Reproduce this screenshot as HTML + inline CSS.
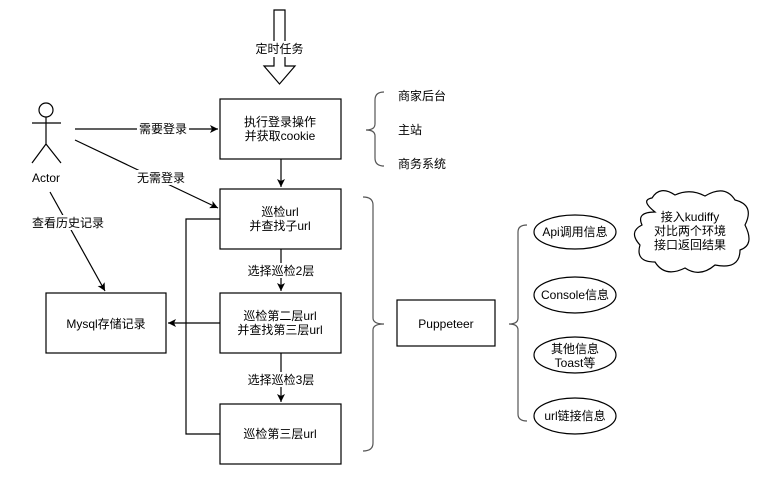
<!DOCTYPE html>
<html><head><meta charset="utf-8"><style>
html,body{margin:0;padding:0;background:#fff;}
svg text{font-family:"Liberation Sans","Noto Sans CJK SC",sans-serif;font-size:12px;fill:#000;}
</style></head><body>
<svg width="766" height="482" xmlns="http://www.w3.org/2000/svg">
<defs><marker id="a" markerWidth="10" markerHeight="10" refX="8" refY="4" orient="auto" markerUnits="userSpaceOnUse"><path d="M0,0 L8,4 L0,8 L2,4 Z" fill="#000"/></marker></defs>
<rect width="766" height="482" fill="#fff"/>
<g fill="none" stroke="#000" stroke-width="1.2">
<path d="M274,10 H285 V66 H295 L279.5,84 L264,66 H274 Z" fill="#fff"/>
<rect x="220" y="99" width="121" height="60"/>
<rect x="220" y="189" width="121" height="60"/>
<rect x="220" y="293" width="121" height="60"/>
<rect x="220" y="404" width="121" height="60"/>
<rect x="46" y="293" width="120" height="60"/>
<rect x="397" y="300" width="98" height="46"/>
<circle cx="46" cy="110" r="7"/>
<path d="M46,117 V144 M32,123 H61 M46,144 L32,163 M46,144 L61,163"/>
<path d="M75,129 H218" marker-end="url(#a)"/>
<path d="M75,140 L218,208" marker-end="url(#a)"/>
<path d="M50,192 L105,291" marker-end="url(#a)"/>
<path d="M281,159 V187" marker-end="url(#a)"/>
<path d="M281,249 V291" marker-end="url(#a)"/>
<path d="M281,353 V402" marker-end="url(#a)"/>
<path d="M220,323 H168" marker-end="url(#a)"/>
<path d="M220,219 H186 V434 H220"/>
<path d="M384,92 Q375,92 375,100 V124 Q375,130 366,130 Q375,130 375,136 V158 Q375,166 384,166" stroke="#555"/>
<path d="M363,197 Q373,197 373,205 V318 Q373,324 384,324 Q373,324 373,330 V443 Q373,451 363,451" stroke="#555"/>
<path d="M527,225 Q518,225 518,232 V318 Q518,324 509,324 Q518,324 518,330 V414 Q518,421 527,421" stroke="#555"/>
<ellipse cx="575" cy="232" rx="41" ry="17"/>
<ellipse cx="575" cy="295" rx="41" ry="18"/>
<ellipse cx="575" cy="355" rx="41" ry="18"/>
<ellipse cx="575" cy="416" rx="41" ry="18"/>
<path d="M655,212 Q640,200 652,198 Q660,185 675,195 Q690,188 705,196 Q725,184 735,200 Q755,205 745,225 Q755,245 740,250 Q740,270 715,265 Q700,278 685,268 Q665,278 655,262 Q635,262 640,245 Q628,232 642,225 Q636,212 655,212 Z" fill="#fff"/>
</g>
<rect x="255" y="41" width="49" height="16" fill="#fff"/>
<g text-anchor="middle">
<text x="279.5" y="53">定时任务</text>
<text x="280" y="126">执行登录操作</text>
<text x="280" y="140">并获取cookie</text>
<text x="280" y="216">巡检url</text>
<text x="280" y="230">并查找子url</text>
<text x="280" y="320">巡检第二层url</text>
<text x="280" y="334">并查找第三层url</text>
<text x="280" y="438">巡检第三层url</text>
<text x="106" y="328">Mysql存储记录</text>
<text x="446" y="328">Puppeteer</text>
<text x="46" y="182">Actor</text>
<text x="575" y="236">Api调用信息</text>
<text x="575" y="299">Console信息</text>
<text x="575" y="353">其他信息</text>
<text x="575" y="367">Toast等</text>
<text x="575" y="420">url链接信息</text>
<text x="690" y="221">接入kudiffy</text>
<text x="690" y="235">对比两个环境</text>
<text x="690" y="249">接口返回结果</text>
</g>
<rect x="137" y="121" width="52" height="15" fill="#fff"/>
<rect x="135" y="170" width="52" height="15" fill="#fff"/>
<rect x="32" y="215" width="74" height="15" fill="#fff"/>
<rect x="246" y="263" width="70" height="15" fill="#fff"/>
<rect x="246" y="372" width="70" height="15" fill="#fff"/>
<g text-anchor="middle">
<text x="163" y="133">需要登录</text>
<text x="161" y="182">无需登录</text>
<text x="68" y="227">查看历史记录</text>
<text x="281" y="275">选择巡检2层</text>
<text x="281" y="384">选择巡检3层</text>
</g>
<text x="398" y="100">商家后台</text>
<text x="398" y="134">主站</text>
<text x="398" y="168">商务系统</text>
</svg>
</body></html>
